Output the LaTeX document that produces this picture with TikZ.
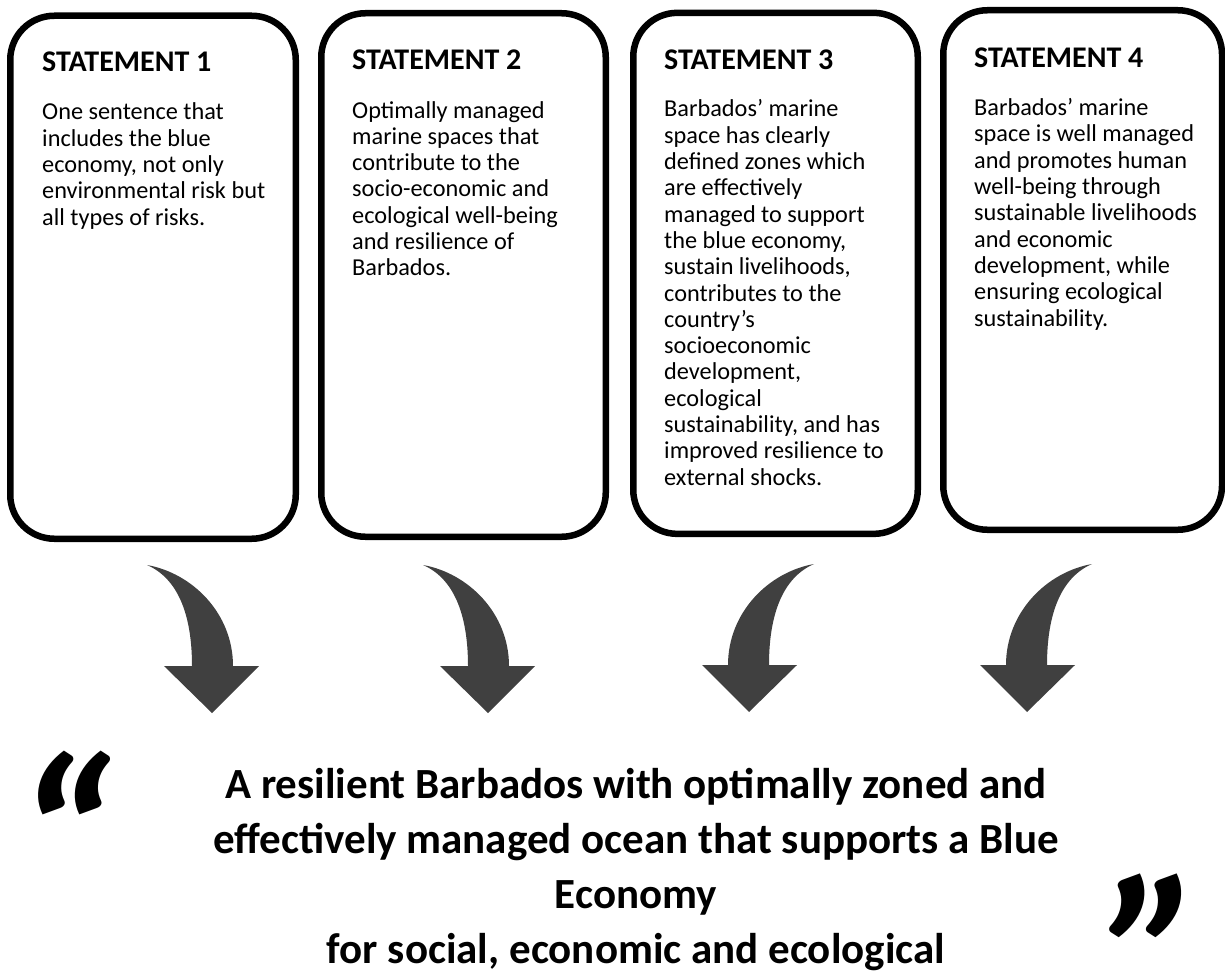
\documentclass[tikz,border=0pt]{standalone}
\usepackage{fontspec}
\setmainfont{Carlito}
\definecolor{arrowgray}{HTML}{404040}
\tikzset{
  stbox/.style={draw=black, line width=6.5pt, rounded corners=44pt, inner sep=0pt, outer sep=0pt, anchor=north west},
  sttitle/.style={anchor=base west, inner sep=0pt, font=\fontsize{30pt}{35pt}\selectfont\bfseries},
  stbody/.style={anchor=base west, inner sep=0pt, font=\fontsize{24.3pt}{26.3pt}\selectfont},
  visiontext/.style={anchor=base, inner sep=0pt, font=\fontsize{43pt}{55pt}\selectfont\bfseries},
  bigquote/.style={anchor=base west, inner sep=0pt, font=\fontsize{230pt}{230pt}\selectfont\bfseries\itshape},
  curvedown/.pic={
    \fill[arrowgray] (-65,-148) .. controls (-20,-140) and (21,-100) .. (21,-47)
      -- (47,-47) -- (0,0) -- (-48,-47) -- (-20,-47)
      .. controls (-20,-100) and (-35,-135) .. (-65,-148) -- cycle;
  },
  curvedownleft/.pic={
    \fill[arrowgray] (65,-148) .. controls (20,-140) and (-21,-100) .. (-21,-47)
      -- (-47,-47) -- (0,0) -- (48,-47) -- (20,-47)
      .. controls (20,-100) and (35,-135) .. (65,-148) -- cycle;
  }
}
\begin{document}
\begin{tikzpicture}[x=1pt,y=-1pt]
\useasboundingbox[fill=white] (0,0) rectangle (1225,971);

% statement boxes
\node[stbox, minimum width=285.5pt, minimum height=523pt] (box1) at (10.25,15.75) {};
\node[stbox, minimum width=284.5pt, minimum height=523.5pt] (box2) at (321.25,13.25) {};
\node[stbox, minimum width=284.5pt, minimum height=521pt] (box3) at (633.25,12.85) {};
\node[stbox, minimum width=278.75pt, minimum height=519.5pt] (box4) at (943.25,10.25) {};

% titles
\node[sttitle] (t1) at (42,71.5) {STATEMENT 1};
\node[sttitle] (t2) at (352,69.6) {STATEMENT 2};
\node[sttitle] (t3) at (664,70) {STATEMENT 3};
\node[sttitle] (t4) at (974,68) {STATEMENT 4};

% bodies
\node[stbody] (b1) at (42,120) {\begin{tabular}[t]{@{}l@{}}One sentence that\\includes the blue\\economy, not only\\environmental risk but\\all types of risks.\end{tabular}};
\node[stbody] (b2) at (352,118) {\begin{tabular}[t]{@{}l@{}}Optimally managed\\marine spaces that\\contribute to the\\socio-economic and\\ecological well-being\\and resilience of\\Barbados.\end{tabular}};
\node[stbody] (b3) at (664,117) {\begin{tabular}[t]{@{}l@{}}Barbados’ marine\\space has clearly\\defined zones which\\are effectively\\managed to support\\the blue economy,\\sustain livelihoods,\\contributes to the\\country’s\\socioeconomic\\development,\\ecological\\sustainability, and has\\improved resilience to\\external shocks.\end{tabular}};
\node[stbody] (b4) at (974,115.7) {\begin{tabular}[t]{@{}l@{}}Barbados’ marine\\space is well managed\\and promotes human\\well-being through\\sustainable livelihoods\\and economic\\development, while\\ensuring ecological\\sustainability.\end{tabular}};

% curved arrows
\pic at (212,713) {curvedown};
\pic at (488,713) {curvedown};
\pic at (749,712) {curvedownleft};
\pic at (1027,712) {curvedownleft};

% vision statement
\node[visiontext] (vision) at (636,798) {\begin{tabular}[t]{@{}c@{}}A resilient Barbados with optimally zoned and\\effectively managed ocean that supports a Blue\\Economy\\for social, economic and ecological\end{tabular}};

% quotes
\node[bigquote] (qopen) at (13,920) {“};
\node[bigquote] (qclose) at (1106,1039) {”};
\end{tikzpicture}
\end{document}
